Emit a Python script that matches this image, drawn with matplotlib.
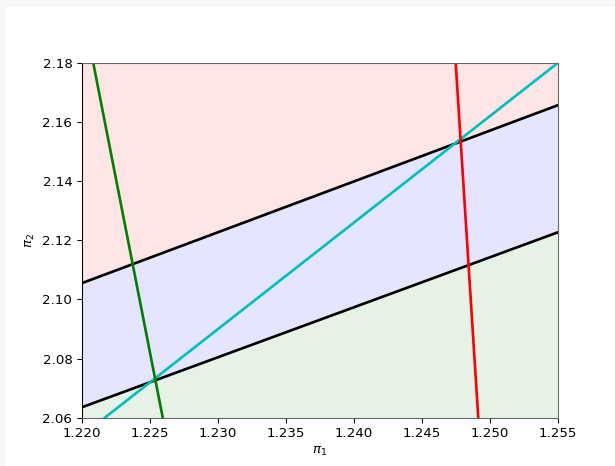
import matplotlib
matplotlib.use("Agg")
import matplotlib.pyplot as plt
from matplotlib.patches import Rectangle

# Data (line endpoints)
x_range = [1.220, 1.255]
upper_black_y = [2.1055, 2.1657]
lower_black_y = [2.0635, 2.1227]
cyan_x = [1.2217, 1.255]
cyan_y = [2.06, 2.18]
green_x = [1.22085, 1.22596]
green_y = [2.18, 2.06]
red_x = [1.2475, 1.24916]
red_y = [2.18, 2.06]
xticks = [1.220, 1.225, 1.230, 1.235, 1.240, 1.245, 1.250, 1.255]
yticks = [2.06, 2.08, 2.10, 2.12, 2.14, 2.16, 2.18]

W, H = 615, 466
dpi = 96
fig = plt.figure(figsize=(W / dpi, H / dpi), dpi=dpi, facecolor='#f7f7f7')
fig.patches.append(Rectangle((5 / W, 0), 1, (H - 7) / H, transform=fig.transFigure,
                             facecolor='white', edgecolor='none', zorder=-1))

l, r, t, b = 81.7, 557.7, 63.0, 417.7
ax = fig.add_axes([l / W, 1 - b / H, (r - l) / W, (b - t) / H])

ax.fill_between(x_range, upper_black_y, [2.18, 2.18], color='r', alpha=0.1, lw=0)
ax.fill_between(x_range, lower_black_y, upper_black_y, color='b', alpha=0.1, lw=0)
ax.fill_between(x_range, [2.06, 2.06], lower_black_y, color='g', alpha=0.1, lw=0)

ax.plot(x_range, upper_black_y, color='k', lw=2)
ax.plot(x_range, lower_black_y, color='k', lw=2)
ax.plot(cyan_x, cyan_y, color='c', lw=2)
ax.plot(green_x, green_y, color='g', lw=2)
ax.plot(red_x, red_y, color='r', lw=2)

ax.set_xlim(x_range)
ax.set_ylim(2.06, 2.18)
ax.set_xticks(xticks)
ax.set_xticklabels([f"{v:.3f}" for v in xticks])
ax.set_yticks(yticks)
ax.set_yticklabels([f"{v:.2f}" for v in yticks])
ax.set_xlabel(r'$\pi_1$')
ax.set_ylabel(r'$\pi_2$')

for s in ['top', 'right', 'bottom']:
    ax.spines[s].set_color('#666666')
ax.spines['left'].set_color('black')

fig.savefig('out.png', dpi=dpi, facecolor=fig.get_facecolor())
